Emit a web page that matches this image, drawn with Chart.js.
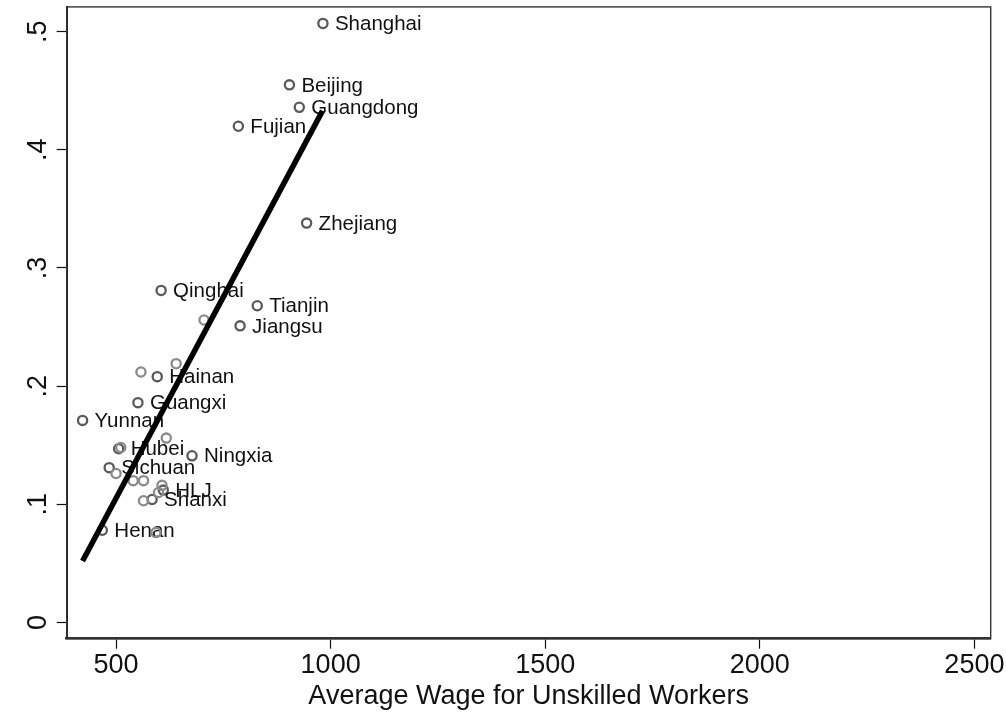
<!DOCTYPE html>
<html>
<head>
<meta charset="utf-8">
<script src="https://cdn.jsdelivr.net/npm/chart.js@4.4.1/dist/chart.umd.min.js"></script>
<style>
  html, body { margin: 0; padding: 0; background: #fff; }
  #wrap { width: 1006px; height: 713px; }
</style>
</head>
<body>
<div id="wrap"><canvas id="c" width="1006" height="713"></canvas></div>
<script>
// Provinces shown with a name next to their marker
const provinces = ['Shanghai', 'Beijing', 'Guangdong', 'Fujian', 'Zhejiang', 'Qinghai', 'Tianjin',
  'Jiangsu', 'Hainan', 'Guangxi', 'Yunnan', 'Hubei', 'Ningxia', 'Sichuan', 'HLJ', 'Shanxi', 'Henan'];
const provinceWage = [982, 904, 927, 785, 944, 605, 829, 789, 596, 551, 422, 506, 677, 484, 610, 584, 468];
const provinceShare = [0.507, 0.455, 0.436, 0.420, 0.338, 0.281, 0.268, 0.251, 0.208, 0.186, 0.171,
  0.147, 0.141, 0.131, 0.112, 0.104, 0.078];

// Remaining provinces, drawn without a name
const otherWage = [705, 558, 640, 617, 511, 500, 540, 564, 607, 599, 564, 593];
const otherShare = [0.256, 0.212, 0.219, 0.156, 0.148, 0.126, 0.120, 0.120, 0.116, 0.110, 0.103, 0.076];

// Fitted line end points
const fitWage = [422, 981];
const fitShare = [0.052, 0.433];

// Axis ticks
const xTicks = [500, 1000, 1500, 2000, 2500];
const yTicks = [0, 0.1, 0.2, 0.3, 0.4, 0.5];
const yTickLabels = ['0', '.1', '.2', '.3', '.4', '.5'];

const SANS = "'Liberation Sans', Arial, sans-serif";

const toPoints = (xs, ys) => xs.map((x, i) => ({ x: x, y: ys[i] }));

// Box around the plotting region
const framePlugin = {
  id: 'frame',
  beforeDatasetsDraw(chart) {
    const a = chart.chartArea, ctx = chart.ctx;
    ctx.save();
    ctx.strokeStyle = '#333';
    ctx.lineWidth = 1.4;
    ctx.strokeRect(a.left, a.top, a.right - a.left, a.bottom - a.top);
    ctx.restore();
  }
};

// Province names, placed to the right of their markers
const nameLabels = {
  id: 'nameLabels',
  afterDatasetDraw(chart, args) {
    if (args.index !== 0) return;
    const ctx = chart.ctx;
    ctx.save();
    ctx.font = '20.5px ' + SANS;
    ctx.fillStyle = '#111';
    ctx.textAlign = 'left';
    ctx.textBaseline = 'middle';
    args.meta.data.forEach((el, i) => {
      ctx.fillText(provinces[i], el.x + 12, el.y + 1);
    });
    ctx.restore();
  }
};

// Vertical tick labels on the y axis
const yLabels = {
  id: 'yLabels',
  afterDraw(chart) {
    const ctx = chart.ctx, ys = chart.scales.y;
    ctx.save();
    ctx.font = '27px ' + SANS;
    ctx.fillStyle = '#111';
    ctx.textAlign = 'center';
    ctx.textBaseline = 'middle';
    yTicks.forEach((v, i) => {
      ctx.save();
      ctx.translate(ys.left + 39, ys.getPixelForValue(v));
      ctx.rotate(-Math.PI / 2);
      ctx.fillText(yTickLabels[i], 0, 0);
      ctx.restore();
    });
    ctx.restore();
  }
};

new Chart(document.getElementById('c'), {
  type: 'scatter',
  data: {
    datasets: [
      {
        data: toPoints(provinceWage, provinceShare),
        order: 2,
        pointRadius: 4.6,
        pointBorderWidth: 2.3,
        pointBackgroundColor: 'rgba(0,0,0,0)',
        pointBorderColor: '#5a5a5a'
      },
      {
        data: toPoints(otherWage, otherShare),
        order: 1,
        pointRadius: 4.6,
        pointBorderWidth: 2.3,
        pointBackgroundColor: 'rgba(0,0,0,0)',
        pointBorderColor: '#8a8a8a'
      },
      {
        data: toPoints(fitWage, fitShare),
        order: 0,
        showLine: true,
        pointRadius: 0,
        borderColor: '#000',
        borderWidth: 5.5,
        borderCapStyle: 'butt'
      }
    ]
  },
  options: {
    responsive: false,
    devicePixelRatio: 1,
    animation: false,
    layout: { padding: { top: 2.7, right: 15.3, left: 0, bottom: 0 } },
    plugins: { legend: { display: false }, tooltip: { enabled: false } },
    scales: {
      x: {
        type: 'linear',
        min: 385,
        max: 2538,
        afterBuildTicks: s => { s.ticks = xTicks.map(v => ({ value: v })); },
        afterFit: s => { s.height = 74.3; },
        ticks: {
          color: '#111',
          font: { family: SANS, size: 27 },
          maxRotation: 0,
          minRotation: 0,
          padding: 1,
          callback: v => String(v)
        },
        grid: { drawOnChartArea: false, tickLength: 10, tickColor: '#111', tickWidth: 1.2 },
        border: { color: '#333', width: 2.5 },
        title: {
          display: true,
          text: 'Average Wage for Unskilled Workers',
          color: '#111',
          font: { family: SANS, size: 27 },
          padding: { top: 0, bottom: 0 }
        }
      },
      y: {
        type: 'linear',
        min: -0.0138,
        max: 0.521,
        afterBuildTicks: s => { s.ticks = yTicks.map(v => ({ value: v })); },
        afterFit: s => { s.width = 66.7; },
        ticks: { display: false },
        grid: { drawOnChartArea: false, tickLength: 10, tickColor: '#111', tickWidth: 1.2 },
        border: { color: '#222', width: 2 }
      }
    }
  },
  plugins: [framePlugin, nameLabels, yLabels]
});
</script>
</body>
</html>
